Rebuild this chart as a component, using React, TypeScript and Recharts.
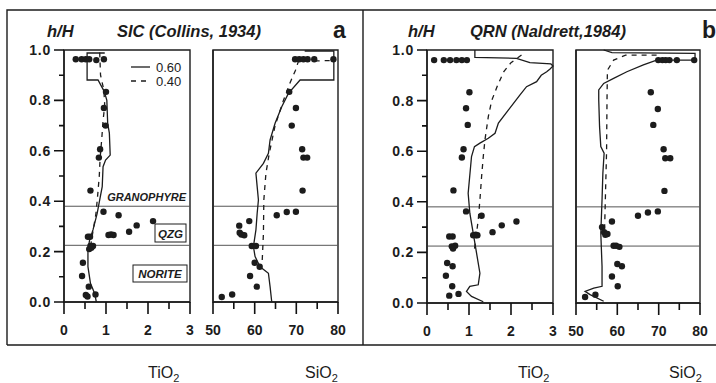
import { ScatterChart, Scatter, XAxis, YAxis, ReferenceLine, ReferenceArea } from "recharts";

const W = 716;
const H = 383;
const INK = "#1c1c1c";
const FONT = "'Liberation Sans', Arial, Helvetica, sans-serif";

// axes
const Y_TICKS = [0, 0.1, 0.2, 0.3, 0.4, 0.5, 0.6, 0.7, 0.8, 0.9, 1.0];
const TIO2_TICKS = [0, 0.5, 1, 1.5, 2, 2.5, 3];
const SIO2_TICKS = [50, 55, 60, 65, 70, 75, 80];
const TIO2_DOMAIN: [number, number] = [0, 3];
const SIO2_DOMAIN: [number, number] = [50, 80];

// unit boundaries (h/H)
const GRANOPHYRE_BASE = 0.38;
const QZG_BASE = 0.225;

type Pt = [number, number]; // [oxide wt%, h/H]

// --- a: SIC (Collins, 1934)
const SIC_TIO2_SAMPLES: Pt[] = [
  [0.28, 0.963], [0.42, 0.963], [0.52, 0.963], [0.6, 0.963], [0.77, 0.96], [0.95, 0.963],
  [1.0, 0.834], [0.95, 0.77], [0.99, 0.7], [0.86, 0.606], [0.83, 0.573], [0.63, 0.442],
  [0.94, 0.358], [1.3, 0.344], [2.12, 0.321], [1.73, 0.304], [1.55, 0.279],
  [1.06, 0.266], [1.12, 0.268], [1.18, 0.266], [0.57, 0.259], [0.62, 0.259],
  [0.63, 0.222], [0.69, 0.222], [0.6, 0.21], [0.65, 0.215],
  [0.45, 0.156], [0.43, 0.103], [0.59, 0.061], [0.52, 0.028], [0.56, 0.022], [0.75, 0.03],
];
const SIC_TIO2_F60: Pt[] = [
  [0.97, 0.988], [0.55, 0.988], [0.55, 0.881], [0.81, 0.881], [0.96, 0.835], [1.02, 0.8],
  [1.04, 0.709], [1.08, 0.67], [1.1, 0.583], [0.99, 0.563], [0.93, 0.537], [0.91, 0.458],
  [0.85, 0.405], [0.79, 0.352], [0.69, 0.286], [0.61, 0.246], [0.57, 0.206], [0.57, 0.14],
  [0.63, 0.074], [0.73, 0.034], [0.77, 0.0],
];
const SIC_TIO2_F40: Pt[] = [
  [0.85, 0.99], [0.87, 0.9], [0.95, 0.84], [0.97, 0.78], [0.93, 0.72], [0.9, 0.65],
  [0.86, 0.57], [0.84, 0.5], [0.8, 0.42], [0.76, 0.35], [0.7, 0.29], [0.65, 0.24], [0.62, 0.2],
];
const SIC_SIO2_SAMPLES: Pt[] = [
  [69.7, 0.963], [70.7, 0.963], [71.7, 0.963], [72.7, 0.963], [74.3, 0.963], [78.9, 0.963],
  [68.3, 0.834], [69.9, 0.77], [68.9, 0.7], [71.4, 0.606], [71.7, 0.573], [72.6, 0.573], [71.5, 0.442],
  [69.9, 0.358], [67.7, 0.357], [65.3, 0.344], [58.7, 0.321], [56.3, 0.303],
  [56.4, 0.275], [56.8, 0.268], [57.5, 0.265], [59.3, 0.222], [60.3, 0.222],
  [60.0, 0.156], [61.2, 0.14], [58.9, 0.103], [60.5, 0.061], [52.1, 0.02], [54.6, 0.03],
];
const SIC_SIO2_F60: Pt[] = [
  [72, 0.996], [79, 0.996], [79, 0.881], [70.9, 0.881], [68.1, 0.828], [66.5, 0.775],
  [64.9, 0.709], [63.7, 0.643], [63.3, 0.59], [62.1, 0.55], [60.3, 0.511], [60.6, 0.458],
  [60.9, 0.405], [60.6, 0.352], [60.3, 0.286], [59.7, 0.22], [60.1, 0.18], [61.3, 0.14],
  [63.3, 0.114], [63.7, 0.061], [64.1, 0.0],
];
const SIC_SIO2_F40: Pt[] = [
  [78, 0.958], [70.5, 0.955], [69.8, 0.92], [68.5, 0.87], [66.9, 0.8], [64.9, 0.7],
  [63.5, 0.59], [62.7, 0.51], [62.2, 0.405], [62.1, 0.27], [61.8, 0.16],
];

// --- b: QRN (Naldrett, 1984)
const QRN_TIO2_SAMPLES: Pt[] = [
  [0.17, 0.96], [0.4, 0.96], [0.55, 0.96], [0.7, 0.96], [0.83, 0.96], [0.95, 0.96],
  [1.01, 0.833], [0.93, 0.77], [0.97, 0.704], [0.87, 0.608], [0.83, 0.575], [0.63, 0.445],
  [0.93, 0.362], [1.3, 0.345], [2.13, 0.322], [1.78, 0.307], [1.56, 0.28],
  [1.1, 0.268], [1.16, 0.27], [1.2, 0.268], [0.53, 0.263], [0.61, 0.263],
  [0.59, 0.224], [0.67, 0.226], [0.62, 0.215], [0.48, 0.158], [0.61, 0.145],
  [0.45, 0.108], [0.6, 0.066], [0.53, 0.029], [0.75, 0.036],
];
const QRN_TIO2_F60: Pt[] = [
  [1.14, 1.0], [1.14, 0.971], [2.13, 0.967], [2.45, 0.95], [2.95, 0.945], [3.0, 0.937],
  [2.93, 0.925], [2.85, 0.914], [2.72, 0.9], [2.61, 0.875], [2.37, 0.855], [2.21, 0.822],
  [1.94, 0.763], [1.7, 0.711], [1.62, 0.671], [1.46, 0.651], [1.26, 0.632], [1.13, 0.618],
  [1.06, 0.579], [0.98, 0.434], [1.02, 0.355], [1.1, 0.276], [1.18, 0.197], [1.26, 0.118],
  [1.22, 0.072], [1.02, 0.066], [0.94, 0.046], [1.06, 0.026], [1.34, 0.005],
];
const QRN_TIO2_F40: Pt[] = [
  [2.25, 0.98], [2.0, 0.95], [1.83, 0.915], [1.68, 0.86], [1.54, 0.8], [1.46, 0.737],
  [1.38, 0.645], [1.34, 0.579], [1.3, 0.5], [1.26, 0.408], [1.22, 0.329], [1.16, 0.25], [1.12, 0.2],
];
const QRN_SIO2_SAMPLES: Pt[] = [
  [69.9, 0.96], [70.9, 0.96], [71.7, 0.96], [72.6, 0.96], [74.4, 0.96], [78.6, 0.96],
  [68.1, 0.833], [69.8, 0.767], [68.7, 0.704], [71.2, 0.608], [71.6, 0.572], [72.8, 0.572], [71.4, 0.443],
  [69.8, 0.362], [67.4, 0.358], [65.0, 0.345], [58.7, 0.322], [56.3, 0.3],
  [56.8, 0.28], [57.1, 0.27], [57.6, 0.273], [59.1, 0.226], [59.7, 0.226], [60.5, 0.222],
  [60.0, 0.154], [61.1, 0.145], [58.7, 0.105], [60.1, 0.066], [52.2, 0.024], [54.7, 0.033],
];
const QRN_SIO2_F60: Pt[] = [
  [56.7, 1.0], [58.7, 0.99], [78.8, 0.987], [78.8, 0.96], [69.5, 0.96], [66.3, 0.941],
  [62.3, 0.914], [59.1, 0.888], [56.7, 0.868], [55.5, 0.842], [55.5, 0.803], [55.7, 0.697],
  [56.0, 0.618], [56.8, 0.592], [56.5, 0.513], [56.3, 0.408], [56.0, 0.276], [56.3, 0.145],
  [56.3, 0.066], [54.3, 0.059], [52.2, 0.046], [53.4, 0.033], [56.7, 0.007],
];
const QRN_SIO2_F40: Pt[] = [
  [69.5, 0.98], [62, 0.98], [59.1, 0.96], [57.6, 0.92], [57.5, 0.8], [57.4, 0.6], [57.1, 0.41], [56.9, 0.28],
];

const rows = (pts: Pt[]) => pts.map(([x, y]) => ({ x, y }));

const PLOT_TOP = 50;

interface Frame {
  left: number;
  right: number;
  bottom: number;
  domain: [number, number];
  ticks: number[];
  step: number;
  labels: boolean;
}

const FRAMES: Frame[] = [
  { left: 64, right: 190, bottom: 302, domain: TIO2_DOMAIN, ticks: TIO2_TICKS, step: 1, labels: true },
  { left: 213, right: 338, bottom: 302, domain: SIO2_DOMAIN, ticks: SIO2_TICKS, step: 10, labels: false },
  { left: 427, right: 553, bottom: 303, domain: TIO2_DOMAIN, ticks: TIO2_TICKS, step: 1, labels: true },
  { left: 576, right: 700, bottom: 303, domain: SIO2_DOMAIN, ticks: SIO2_TICKS, step: 10, labels: false },
];

const isMajorY = (v: number) => Math.round(v * 10) % 2 === 0;

const YLabel = (props: any) => {
  const { x, y, payload } = props;
  if (!isMajorY(payload.value)) return <g />;
  return (
    <text x={x - 13} y={y} dy={5} textAnchor="end" fontFamily={FONT} fontWeight="bold" fontSize={14} letterSpacing={0.8} fill={INK}>
      {payload.value.toFixed(1)}
    </text>
  );
};

const XLabel = (props: any) => {
  const { x, y, payload, step } = props;
  if (payload.value % step !== 0) return <g />;
  return (
    <text x={x} y={y + 33} textAnchor="middle" fontFamily={FONT} fontWeight="bold" fontSize={14} fill={INK}>
      {payload.value}
    </text>
  );
};

const Dot = (p: any) => <circle cx={p.cx} cy={p.cy} r={3.2} fill={INK} />;
const NoDot = () => <g />;

function Profile({ frame, samples, f60, f40 }: { frame: Frame; samples: Pt[]; f60: Pt[]; f40: Pt[] }) {
  const { left, right, bottom, domain, ticks, step, labels } = frame;
  const yW = 50;
  const xH = 40;
  return (
    <div style={{ position: "absolute", left: 0, top: 0 }}>
      <ScatterChart
        width={W}
        height={H}
        margin={{ top: PLOT_TOP, left: left - yW, right: W - right, bottom: H - bottom - xH }}
      >
        <XAxis
          type="number"
          dataKey="x"
          domain={domain}
          ticks={ticks}
          interval={0}
          height={xH}
          axisLine={{ stroke: INK, strokeWidth: 1.4 }}
          tickLine={false}
          tickSize={0}
          tickMargin={0}
          tick={(p: any) => <XLabel {...p} step={step} />}
        />
        <YAxis
          type="number"
          dataKey="y"
          domain={[0, 1]}
          ticks={Y_TICKS}
          interval={0}
          width={yW}
          axisLine={{ stroke: INK, strokeWidth: 1.4 }}
          tickLine={false}
          tickSize={0}
          tickMargin={0}
          tick={labels ? (p: any) => <YLabel {...p} /> : false}
        />
        <ReferenceArea x1={domain[0]} x2={domain[1]} y1={0} y2={1} fill="none" stroke={INK} strokeWidth={1.4} ifOverflow="visible" />
        <ReferenceLine y={GRANOPHYRE_BASE} stroke="#555" strokeWidth={1} />
        <ReferenceLine y={QZG_BASE} stroke="#555" strokeWidth={1} />
        <Scatter data={rows(f60)} line={{ stroke: INK, strokeWidth: 1.3 }} lineType="joint" shape={NoDot} isAnimationActive={false} />
        <Scatter data={rows(f40)} line={{ stroke: INK, strokeWidth: 1.3, strokeDasharray: "5 5" }} lineType="joint" shape={NoDot} isAnimationActive={false} />
        <Scatter data={rows(samples)} shape={Dot} isAnimationActive={false} />
      </ScatterChart>
    </div>
  );
}

// tick marks outside each plot box, placed with the same linear mapping as the axes
function tickPath(frame: Frame) {
  const { left, right, bottom, domain, ticks, step, labels } = frame;
  const px = (v: number) => left + ((v - domain[0]) / (domain[1] - domain[0])) * (right - left);
  const py = (v: number) => bottom - v * (bottom - PLOT_TOP);
  let d = "";
  ticks.forEach((t) => {
    d += `M${px(t).toFixed(1)} ${bottom} V${bottom + (t % step === 0 ? 12 : 7)} `;
  });
  if (labels) {
    Y_TICKS.forEach((t) => {
      d += `M${left - (isMajorY(t) ? 10 : 5)} ${py(t).toFixed(1)} H${left} `;
    });
  }
  return d;
}

const txt = { fontFamily: FONT, fill: INK } as const;

export default function App() {
  return (
    <div style={{ position: "absolute", left: 0, top: 0, width: W, height: H, background: "#fff", overflow: "hidden" }}>
      <Profile frame={FRAMES[0]} samples={SIC_TIO2_SAMPLES} f60={SIC_TIO2_F60} f40={SIC_TIO2_F40} />
      <Profile frame={FRAMES[1]} samples={SIC_SIO2_SAMPLES} f60={SIC_SIO2_F60} f40={SIC_SIO2_F40} />
      <Profile frame={FRAMES[2]} samples={QRN_TIO2_SAMPLES} f60={QRN_TIO2_F60} f40={QRN_TIO2_F40} />
      <Profile frame={FRAMES[3]} samples={QRN_SIO2_SAMPLES} f60={QRN_SIO2_F60} f40={QRN_SIO2_F40} />

      <svg width={W} height={H} style={{ position: "absolute", left: 0, top: 0, pointerEvents: "none" }}>
        {FRAMES.map((f, i) => (
          <path key={i} d={tickPath(f)} fill="none" stroke="#111" strokeWidth={1.6} />
        ))}

        {/* outer frame */}
        <path d="M7 345 L7 10 L720 10 M7 345 L720 345 M363 10 L363 345" fill="none" stroke={INK} strokeWidth={1.4} />

        {/* panel titles */}
        <text x={47} y={37} {...txt} fontSize={16.5} fontWeight="bold" fontStyle="italic">h/H</text>
        <text x={117} y={37} {...txt} fontSize={16.5} fontWeight="bold" fontStyle="italic">SIC (Collins, 1934)</text>
        <text x={333} y={38} {...txt} fontSize={23} fontWeight="bold">a</text>
        <text x={408} y={37} {...txt} fontSize={16.5} fontWeight="bold" fontStyle="italic">h/H</text>
        <text x={470} y={37} {...txt} fontSize={16.5} fontWeight="bold" fontStyle="italic">QRN (Naldrett,1984)</text>
        <text x={702} y={38} {...txt} fontSize={23} fontWeight="bold">b</text>

        {/* legend */}
        <line x1={131} x2={150} y1={67} y2={67} stroke={INK} strokeWidth={1.3} />
        <line x1={131} x2={150} y1={81} y2={81} stroke={INK} strokeWidth={1.3} strokeDasharray="5 5" />
        <text x={156} y={71.5} {...txt} fontSize={13}>0.60</text>
        <text x={156} y={85.5} {...txt} fontSize={13}>0.40</text>

        {/* unit labels */}
        <text x={186} y={201} textAnchor="end" {...txt} fontSize={11} fontWeight="bold" fontStyle="italic">GRANOPHYRE</text>
        <rect x={155} y={224} width={31} height={18} fill="#fff" stroke={INK} strokeWidth={1} />
        <text x={170.5} y={238} textAnchor="middle" {...txt} fontSize={11.5} fontWeight="bold" fontStyle="italic">QZG</text>
        <rect x={133} y={265} width={54} height={17} fill="#fff" stroke={INK} strokeWidth={1} />
        <text x={160} y={278} textAnchor="middle" {...txt} fontSize={11.5} fontWeight="bold" fontStyle="italic">NORITE</text>

        {/* axis titles */}
        <text x={148} y={378} {...txt} fontSize={16}>TiO<tspan fontSize={11} dy={4}>2</tspan></text>
        <text x={305} y={378} {...txt} fontSize={16}>SiO<tspan fontSize={11} dy={4}>2</tspan></text>
        <text x={518} y={378} {...txt} fontSize={16}>TiO<tspan fontSize={11} dy={4}>2</tspan></text>
        <text x={669} y={378} {...txt} fontSize={16}>SiO<tspan fontSize={11} dy={4}>2</tspan></text>
      </svg>
    </div>
  );
}
